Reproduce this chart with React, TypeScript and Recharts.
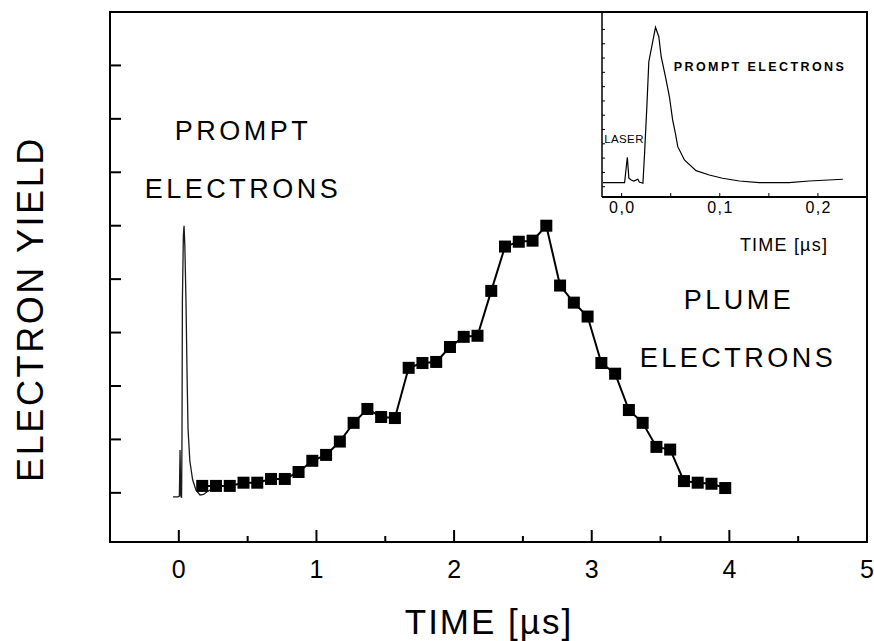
import { LineChart, Line, XAxis, YAxis, ReferenceArea } from 'recharts';

// main panel: plume electrons (squares), time in µs
const plumeTime = [
  0.17, 0.27, 0.37, 0.47, 0.57, 0.67, 0.77, 0.87, 0.97, 1.07,
  1.17, 1.27, 1.37, 1.47, 1.57, 1.67, 1.77, 1.87, 1.97, 2.07,
  2.17, 2.27, 2.37, 2.47, 2.57, 2.67, 2.77, 2.87, 2.97, 3.07,
  3.17, 3.27, 3.37, 3.47, 3.57, 3.67, 3.77, 3.87, 3.97,
];
const plumeYield = [
  0.13, 0.13, 0.13, 0.19, 0.19, 0.26, 0.26, 0.39, 0.6, 0.71,
  0.96, 1.31, 1.57, 1.42, 1.4, 2.34, 2.43, 2.45, 2.73, 2.92,
  2.94, 3.78, 4.61, 4.7, 4.72, 5.0, 3.88, 3.56, 3.3, 2.43,
  2.23, 1.55, 1.31, 0.86, 0.81, 0.22, 0.19, 0.17, 0.09,
];

// main panel: prompt electron trace
const promptTime = [
  -0.042, -0.006, 0.004, 0.009, 0.014, 0.02, 0.023, 0.026, 0.033, 0.038,
  0.044, 0.052, 0.06, 0.067, 0.08, 0.1, 0.125, 0.154, 0.18, 0.205, 0.24,
];
const promptYield = [
  -0.075, -0.075, -0.06, 0.8, -0.05, -0.09, 1.0, 3.6, 4.8, 5.0,
  4.6, 3.6, 2.2, 1.2, 0.6, 0.25, 0.05, -0.04, -0.03, 0.02, 0.07,
];

const mainXTicks = [0, 0.5, 1, 1.5, 2, 2.5, 3, 3.5, 4, 4.5, 5];
const mainXLabels = ['0', '', '1', '', '2', '', '3', '', '4', '', '5'];
const mainYTicks = [0, 1, 2, 3, 4, 5, 6, 7, 8];

// inset: prompt electrons, zoomed
const insetTime = [
  -0.019, 0.003, 0.0058, 0.0074, 0.0098, 0.0125, 0.0166, 0.018, 0.0217, 0.0234,
  0.0257, 0.0277, 0.03, 0.0345, 0.0379, 0.0403, 0.0447, 0.0487, 0.052, 0.0548,
  0.0572, 0.064, 0.0758, 0.0893, 0.1028, 0.12, 0.14, 0.1706, 0.191, 0.2254,
];
const insetSignal = [
  0.028, 0.028, 0.206, 0.059, 0.047, 0.04, 0.052, 0.033, 0.024, 0.236,
  0.56, 0.874, 0.956, 1.115, 1.049, 0.909, 0.769, 0.629, 0.466, 0.373,
  0.28, 0.187, 0.112, 0.082, 0.059, 0.04, 0.028, 0.028, 0.04, 0.052,
];

const insetXTicks = [0, 0.05, 0.1, 0.15, 0.2];
const insetXLabels = ['0,0', '', '0,1', '', '0,2'];
const insetYTicks = [0, 0.1, 0.2, 0.3, 0.4, 0.5, 0.6, 0.7, 0.8, 0.9, 1.0, 1.1];

const plumeData = plumeTime.map((t, i) => ({ t, v: plumeYield[i] }));
const promptData = promptTime.map((t, i) => ({ t, v: promptYield[i] }));
const insetData = insetTime.map((t, i) => ({ t, v: insetSignal[i] }));

const FONT = '"Liberation Sans", Arial, Helvetica, sans-serif';

const MainXTick = (props: any) => {
  const { x, y, payload } = props;
  const label = mainXLabels[mainXTicks.indexOf(payload.value)];
  return (
    <g>
      <line x1={x} x2={x} y1={y} y2={y - (label ? 12 : 6)} stroke="#000" strokeWidth={2} />
      {label ? (
        <text x={x} y={y + 36} textAnchor="middle" fontSize={25} fontFamily={FONT} fill="#000">
          {label}
        </text>
      ) : null}
    </g>
  );
};

const MainYTick = (props: any) => {
  const { x, y } = props;
  return <line x1={x} x2={x + 11} y1={y} y2={y} stroke="#000" strokeWidth={2} />;
};

const InsetXTick = (props: any) => {
  const { x, y, payload } = props;
  const label = insetXLabels[insetXTicks.indexOf(payload.value)];
  return (
    <g>
      <line x1={x} x2={x} y1={y} y2={y - 4} stroke="#000" strokeWidth={1} />
      {label ? (
        <text x={x + 0.7} y={y + 16} textAnchor="middle" fontSize={16} letterSpacing={1.4} fontFamily={FONT} fill="#000">
          {label}
        </text>
      ) : null}
    </g>
  );
};

const InsetYTick = (props: any) => {
  const { x, y } = props;
  return <line x1={x} x2={x + 3} y1={y} y2={y} stroke="#000" strokeWidth={1} />;
};

const SquareDot = (props: any) => {
  const { cx, cy, index } = props;
  return <rect key={`sq-${index}`} x={cx - 6} y={cy - 6} width={12} height={12} fill="#000" />;
};

export default function App() {
  return (
    <div style={{ position: 'absolute', left: 0, top: 0, width: 874, height: 641, background: '#fff', fontFamily: FONT }}>
      {/* main chart */}
      <div style={{ position: 'absolute', left: 0, top: 0 }}>
        <LineChart width={874} height={641} margin={{ top: 12, right: 7, bottom: 39, left: 50 }}>
          <XAxis
            dataKey="t"
            type="number"
            domain={[-0.5, 5]}
            ticks={mainXTicks}
            allowDataOverflow
            height={60}
            axisLine={false}
            tickLine={false}
            tickSize={0}
            tickMargin={0}
            tick={<MainXTick />}
            interval={0}
          />
          <YAxis
            dataKey="v"
            type="number"
            domain={[-0.92, 9]}
            ticks={mainYTicks}
            allowDataOverflow
            width={60}
            axisLine={false}
            tickLine={false}
            tickSize={0}
            tickMargin={0}
            tick={<MainYTick />}
            interval={0}
          />
          <ReferenceArea x1={-0.5} x2={5} y1={-0.92} y2={9} fill="none" stroke="#000" strokeWidth={2} />
          <Line
            data={promptData}
            dataKey="v"
            type="linear"
            stroke="#1a1a1a"
            strokeWidth={1.3}
            dot={false}
            isAnimationActive={false}
          />
          <Line
            data={plumeData}
            dataKey="v"
            type="linear"
            stroke="#000"
            strokeWidth={2}
            dot={<SquareDot />}
            isAnimationActive={false}
          />
        </LineChart>
      </div>

      {/* inset */}
      <div style={{ position: 'absolute', left: 560, top: 0 }}>
        <LineChart width={314} height={270} margin={{ top: 12, right: 7, bottom: 33, left: 32 }}>
          <XAxis
            dataKey="t"
            type="number"
            domain={[-0.02, 0.25]}
            ticks={insetXTicks}
            allowDataOverflow
            height={40}
            axisLine={{ stroke: '#000', strokeWidth: 2 }}
            tickLine={false}
            tickSize={0}
            tickMargin={0}
            tick={<InsetXTick />}
            interval={0}
          />
          <YAxis
            dataKey="v"
            type="number"
            domain={[-0.072, 1.222]}
            ticks={insetYTicks}
            allowDataOverflow
            width={10}
            axisLine={{ stroke: '#000', strokeWidth: 1.5 }}
            tickLine={false}
            tickSize={0}
            tickMargin={0}
            tick={<InsetYTick />}
            interval={0}
          />
          <Line
            data={insetData}
            dataKey="v"
            type="linear"
            stroke="#000"
            strokeWidth={1.2}
            dot={false}
            isAnimationActive={false}
          />
        </LineChart>
      </div>

      {/* annotations */}
      <svg width={874} height={641} style={{ position: 'absolute', left: 0, top: 0, pointerEvents: 'none' }}>
        <g fontFamily={FONT} fill="#000">
          <text x={43} y={309} transform="rotate(-90 43 309)" textAnchor="middle" fontSize={36} letterSpacing={2.6}>
            ELECTRON YIELD
          </text>
          <text x={489} y={634} textAnchor="middle" fontSize={35} letterSpacing={2}>
            TIME [µs]
          </text>
          <text x={243} y={140} textAnchor="middle" fontSize={27} letterSpacing={3.5}>
            PROMPT
          </text>
          <text x={243} y={198} textAnchor="middle" fontSize={27} letterSpacing={3.5}>
            ELECTRONS
          </text>
          <text x={739} y={309} textAnchor="middle" fontSize={27} letterSpacing={3.5}>
            PLUME
          </text>
          <text x={738} y={367} textAnchor="middle" fontSize={27} letterSpacing={3.5}>
            ELECTRONS
          </text>
          <text x={760} y={71} textAnchor="middle" fontSize={12.5} fontWeight="bold" letterSpacing={2.4}>
            PROMPT ELECTRONS
          </text>
          <text x={624} y={143} textAnchor="middle" fontSize={11.5} letterSpacing={0.4}>
            LASER
          </text>
          <text x={784} y={251} textAnchor="middle" fontSize={18} letterSpacing={1.2}>
            TIME [µs]
          </text>
        </g>
      </svg>
    </div>
  );
}
